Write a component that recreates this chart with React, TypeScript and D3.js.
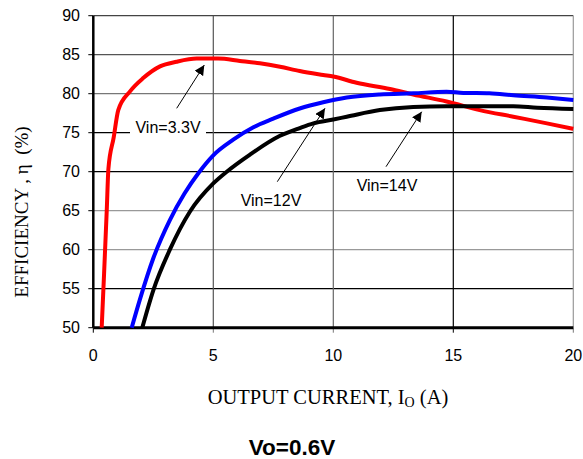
import React from "react";
import * as d3 from "d3";

const xTicks = [0, 5, 10, 15, 20];
const yTicks = [50, 55, 60, 65, 70, 75, 80, 85, 90];

const vin33X = [0.35, 0.45, 0.56, 0.63, 0.85, 1.04, 1.53, 2.08, 2.78, 3.47, 4.31, 5.2, 6.11, 6.94, 7.78, 8.6, 9.58, 10, 10.97, 12.36, 13.33, 14.72, 16.1, 17.5, 18.9, 20];
const vin33Y = [50, 57, 65, 70.4, 74.4, 77.9, 80.3, 82.0, 83.5, 84.1, 84.5, 84.5, 84.2, 83.9, 83.45, 82.9, 82.4, 82.2, 81.4, 80.6, 79.9, 79.0, 77.9, 77.05, 76.2, 75.5];

const vin12X = [1.6, 1.94, 2.5, 3.19, 3.8, 4.4, 5, 5.83, 6.67, 7.5, 8.6, 9.58, 10.56, 11.94, 13.33, 14.72, 15.42, 16.5, 17.5, 18.9, 20];
const vin12Y = [50, 53.6, 58.9, 63.8, 67.2, 69.9, 72.1, 74.1, 75.7, 76.8, 78.1, 78.9, 79.5, 79.9, 80.05, 80.25, 80.1, 80.05, 79.8, 79.5, 79.2];

const vin14X = [2.04, 2.5, 3.19, 4.03, 5, 5.56, 6.53, 7.78, 8.6, 9.17, 10, 10.56, 11.94, 13.33, 14.72, 16, 17.5, 18.5, 20];
const vin14Y = [50, 54.8, 60, 64.9, 68.5, 70, 72.2, 74.6, 75.6, 76.2, 76.7, 77.05, 77.9, 78.3, 78.4, 78.4, 78.4, 78.2, 78.05];

const seriesNames = ["Vin=3.3V", "Vin=12V", "Vin=14V"];
const seriesColors = ["#ff0000", "#0000ff", "#000000"];

const hGridColor: Record<number, string> = { 90: "#444", 85: "#555", 80: "#777", 75: "#000", 70: "#000", 65: "#999", 60: "#999", 55: "#000" };
const vGridColor: Record<number, string> = { 5: "#555", 10: "#666", 15: "#000", 20: "#999" };

export default function App() {
  const W = 583, H = 459;
  const left = 93.3, right = 573.3, top = 15.7, bottom = 327.7;
  const x = d3.scaleLinear().domain([0, 20]).range([left, right]);
  const y = d3.scaleLinear().domain([50, 90]).range([bottom, top]);
  const line = d3.line<[number, number]>().x(d => x(d[0])).y(d => y(d[1])).curve(d3.curveMonotoneX);
  const data = [
    vin33X.map((v, i) => [v, vin33Y[i]] as [number, number]),
    vin12X.map((v, i) => [v, vin12Y[i]] as [number, number]),
    vin14X.map((v, i) => [v, vin14Y[i]] as [number, number]),
  ];
  const sans = "Arial, 'Liberation Sans', sans-serif";
  const serif = "'Times New Roman', 'Liberation Serif', serif";

  const annotations = [
    { text: seriesNames[0], tx: 168, ty: 127, fx: 176.7, fy: 108.3, ax: 204.3, ay: 65, bg: true },
    { text: seriesNames[1], tx: 271, ty: 200, fx: 277.3, fy: 181.7, ax: 325, ay: 108.3, bg: false },
    { text: seriesNames[2], tx: 387, ty: 185, fx: 386, fy: 166.7, ax: 421.7, ay: 111.7, bg: false },
  ];

  return (
    <svg width={W} height={H} style={{ position: "absolute", left: 0, top: 0, background: "#fff" }}>
      <defs>
        <marker id="arr" viewBox="0 0 10 10" refX="10" refY="5" markerWidth="10" markerHeight="10" markerUnits="userSpaceOnUse" orient="auto">
          <path d="M0,0 L10,5 L0,10 z" fill="#000" />
        </marker>
      </defs>
      {yTicks.filter(t => t > 50).map(t => (
        <line key={"h" + t} x1={left} x2={right} y1={y(t)} y2={y(t)} stroke={hGridColor[t]} strokeWidth={1.2} />
      ))}
      {xTicks.filter(t => t > 0).map(t => (
        <line key={"v" + t} x1={x(t)} x2={x(t)} y1={top} y2={bottom} stroke={vGridColor[t]} strokeWidth={1.2} />
      ))}
      {xTicks.map(t => (
        <line key={"xt" + t} x1={x(t)} x2={x(t)} y1={bottom} y2={bottom + 5} stroke={t === 15 || t === 0 ? "#000" : "#777"} strokeWidth={1} />
      ))}
      {yTicks.map(t => (
        <line key={"yt" + t} x1={left - 5} x2={left} y1={y(t)} y2={y(t)} stroke="#000" strokeWidth={1} />
      ))}
      <line x1={left} x2={left} y1={top} y2={bottom} stroke="#000" strokeWidth={2.5} />
      <line x1={left} x2={right} y1={bottom} y2={bottom} stroke="#000" strokeWidth={3} />
      {yTicks.map(t => (
        <text key={"yl" + t} x={80} y={y(t)} dy="0.36em" textAnchor="end" fontFamily={sans} fontSize={16} fill="#000">{t}</text>
      ))}
      {xTicks.map(t => (
        <text key={"xl" + t} x={x(t)} y={361} textAnchor="middle" fontFamily={sans} fontSize={16} fill="#000">{t}</text>
      ))}
      {annotations.map((a, i) => (
        <g key={"a" + i}>
          {a.bg && <rect x={a.tx - 38} y={a.ty - 9} width={76} height={18} fill="#fff" />}
          <text x={a.tx} y={a.ty} dy="0.36em" textAnchor="middle" fontFamily={sans} fontSize={16} fill="#000">{a.text}</text>
          <line x1={a.fx} y1={a.fy} x2={a.ax} y2={a.ay} stroke="#000" strokeWidth={1} markerEnd="url(#arr)" />
        </g>
      ))}
      {data.map((d, i) => (
        <path key={"s" + i} d={line(d) || ""} fill="none" stroke={seriesColors[i]} strokeWidth={4} strokeLinejoin="round" />
      ))}
      <text transform="translate(21.5,212) rotate(-90)" textAnchor="middle" dy="0.35em" fontFamily={serif} fontSize={19} fill="#000">
        {"EFFICIENCY , η\u00a0\u00a0(%)"}
      </text>
      <text x={328} y={404} textAnchor="middle" fontFamily={serif} fontSize={20.5} fill="#000">
        OUTPUT CURRENT, I<tspan fontSize={14} dy={3}>O</tspan><tspan dy={-3}> (A)</tspan>
      </text>
      <text x={292} y={455} textAnchor="middle" fontFamily={sans} fontSize={22.5} fontWeight="bold" fill="#000">Vo=0.6V</text>
    </svg>
  );
}
